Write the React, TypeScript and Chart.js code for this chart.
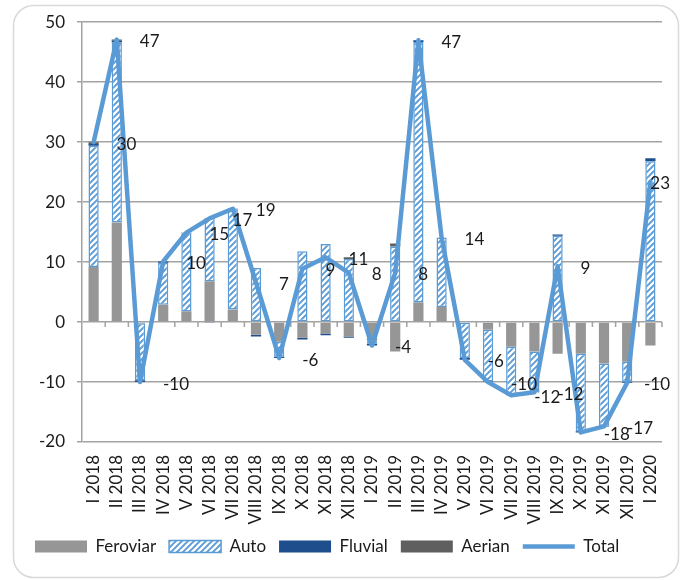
import React, { useEffect, useRef } from 'react';
import { Chart, registerables } from 'chart.js';

Chart.register(...registerables);

const categories = [
  'I 2018', 'II 2018', 'III 2018', 'IV 2018', 'V 2018', 'VI 2018', 'VII 2018', 'VIII 2018',
  'IX 2018', 'X 2018', 'XI 2018', 'XII 2018', 'I 2019', 'II 2019', 'III 2019', 'IV 2019',
  'V 2019', 'VI 2019', 'VII 2019', 'VIII 2019', 'IX 2019', 'X 2019', 'XI 2019', 'XII 2019', 'I 2020',
];

const feroviar = [9.2, 16.6, -0.2, 2.9, 1.8, 6.8, 2.1, -2.1, -3.3, -2.6, -1.9, -2.4, -3.2, -4.9, 3.3, 2.5, -0.1, -1.3, -4.1, -4.9, -5.3, -5.3, -6.9, -6.6, -3.9];
const auto = [20.2, 30.0, -9.5, 7.0, 13.0, 10.6, 16.7, 9.0, -2.5, 11.8, 13.0, 10.5, -0.4, 12.6, 43.4, 11.6, -5.9, -8.6, -8.0, -6.7, 14.4, -12.9, -10.4, -3.4, 26.8];
const fluvial = [0.3, 0.3, -0.3, 0.2, 0.1, -0.15, 0.1, -0.3, -0.2, -0.3, -0.3, -0.2, -0.3, 0, 0.3, 0, -0.3, -0.1, -0.1, -0.1, 0.2, -0.2, -0.1, -0.1, 0.5];
const aerian = [0.3, 0.2, 0, 0, 0, 0, 0, 0, 0, 0, 0, 0.3, 0, 0.5, 0, 0, 0, 0, 0, 0, 0, 0, 0, 0, 0];
const total = [30.0, 47.1, -10.0, 10.1, 14.9, 17.3, 18.9, 6.6, -6.0, 8.9, 10.8, 8.2, -3.9, 8.2, 47.0, 14.1, -6.3, -10.0, -12.2, -11.7, 9.3, -18.4, -17.4, -10.1, 23.4];

const yMin = -20;
const yMax = 50;
const yStep = 10;

const FONT = 'Lato';
const TEXT = '#1a1a1a';
const GRID = '#a3a3a3';
const BLUE = '#5b9bd5';

function makeHatch(): CanvasPattern | string {
  const s = 6;
  const c = document.createElement('canvas');
  c.width = s;
  c.height = s;
  const g = c.getContext('2d');
  if (!g) return BLUE;
  g.fillStyle = BLUE;
  g.fillRect(0, 0, s, s);
  g.strokeStyle = '#ffffff';
  g.lineWidth = 2.3;
  g.beginPath();
  for (let k = -1; k <= 2; k++) {
    g.moveTo(-1, k * s + 1);
    g.lineTo(k * s + 1, -1);
  }
  g.stroke();
  const p = g.createPattern(c, 'repeat');
  return p || BLUE;
}

const framePlugin = {
  id: 'frame',
  beforeDraw(chart: any) {
    const ctx = chart.ctx;
    ctx.save();
    ctx.fillStyle = '#ffffff';
    ctx.fillRect(0, 0, chart.width, chart.height);
    const x = 13.5, y = 5.5, w = 665, h = 572, r = 20;
    ctx.beginPath();
    ctx.moveTo(x + r, y);
    ctx.lineTo(x + w - r, y);
    ctx.arcTo(x + w, y, x + w, y + r, r);
    ctx.lineTo(x + w, y + h - r);
    ctx.arcTo(x + w, y + h, x + w - r, y + h, r);
    ctx.lineTo(x + r, y + h);
    ctx.arcTo(x, y + h, x, y + h - r, r);
    ctx.lineTo(x, y + r);
    ctx.arcTo(x, y, x + r, y, r);
    ctx.closePath();
    ctx.strokeStyle = '#d9d9d9';
    ctx.lineWidth = 1.5;
    ctx.stroke();
    ctx.restore();
  },
};

const zeroTicksPlugin = {
  id: 'zeroTicks',
  beforeDatasetsDraw(chart: any) {
    const ctx = chart.ctx;
    const ys = chart.scales.y;
    const y0 = ys.getPixelForValue(0);
    const n = categories.length;
    const left = chart.chartArea.left;
    const right = chart.chartArea.right;
    const step = (right - left) / n;
    ctx.save();
    ctx.strokeStyle = GRID;
    ctx.lineWidth = 1.5;
    ctx.beginPath();
    for (let k = 1; k <= n; k++) {
      const x = left + step * k;
      ctx.moveTo(x, y0);
      ctx.lineTo(x, y0 + 5);
    }
    ctx.stroke();
    ctx.restore();
  },
};

const totalLabelsPlugin = {
  id: 'totalLabels',
  afterDatasetsDraw(chart: any) {
    const idx = chart.data.datasets.findIndex((d: any) => d.label === 'Total');
    const meta = chart.getDatasetMeta(idx);
    const ctx = chart.ctx;
    ctx.save();
    ctx.font = `17px ${FONT}`;
    ctx.fillStyle = TEXT;
    ctx.textBaseline = 'middle';
    ctx.textAlign = 'left';
    const limit = chart.chartArea.right + 8;
    meta.data.forEach((pt: any, i: number) => {
      const txt = String(Math.round(total[i]));
      const w = ctx.measureText(txt).width;
      let x = pt.x + 23;
      if (x + w > limit) x = limit - w;
      ctx.fillText(txt, x, pt.y + 2);
    });
    ctx.restore();
  },
};

export default function App() {
  const ref = useRef<HTMLCanvasElement | null>(null);

  useEffect(() => {
    if (!ref.current) return;
    const hatch = makeHatch();
    const barCommon = {
      type: 'bar' as const,
      stack: 'bars',
      order: 1,
      barPercentage: 0.44,
      categoryPercentage: 1,
      pointStyle: 'rect',
    };
    const chart = new Chart(ref.current, {
      type: 'bar',
      data: {
        labels: categories,
        datasets: [
          { ...barCommon, label: 'Feroviar', data: feroviar, backgroundColor: '#969696', borderWidth: 0 },
          { ...barCommon, label: 'Auto', data: auto, backgroundColor: hatch as any, borderColor: BLUE, borderWidth: 1.5, borderSkipped: false },
          { ...barCommon, label: 'Fluvial', data: fluvial, backgroundColor: '#1f4e8c', borderWidth: 0 },
          { ...barCommon, label: 'Aerian', data: aerian, backgroundColor: '#5f5f5f', borderWidth: 0 },
          {
            type: 'line' as const,
            label: 'Total',
            data: total,
            stack: 'total',
            order: 0,
            borderColor: BLUE,
            backgroundColor: BLUE,
            borderWidth: 4.5,
            borderJoinStyle: 'round',
            borderCapStyle: 'round',
            pointRadius: 0,
            pointHoverRadius: 0,
            pointStyle: 'line',
            tension: 0,
            fill: false,
          } as any,
        ],
      },
      options: {
        responsive: false,
        animation: false,
        events: [],
        layout: { padding: { left: 22, right: 24, top: 18, bottom: 15 } },
        scales: {
          x: {
            stacked: true,
            grid: { display: false, drawTicks: false },
            border: { display: false },
            ticks: {
              autoSkip: false,
              minRotation: 90,
              maxRotation: 90,
              padding: 13,
              color: TEXT,
              font: { family: FONT, size: 17 },
            },
            afterFit(scale: any) {
              scale.height = 83;
            },
          },
          y: {
            stacked: true,
            min: yMin,
            max: yMax,
            grid: { color: GRID, lineWidth: 1.5, tickLength: 5 },
            border: { display: true, color: GRID, width: 1.5 },
            ticks: {
              stepSize: yStep,
              padding: 12,
              color: TEXT,
              font: { family: FONT, size: 17 },
            },
            afterFit(scale: any) {
              scale.width = 60;
            },
          },
        },
        plugins: {
          title: { display: false },
          tooltip: { enabled: false },
          legend: {
            display: true,
            position: 'bottom',
            align: 'start',
            labels: {
              usePointStyle: true,
              pointStyleWidth: 52,
              boxHeight: 12,
              padding: 13,
              color: TEXT,
              font: { family: FONT, size: 17 },
              sort: (a: any, b: any) => a.datasetIndex - b.datasetIndex,
              generateLabels(ch: any) {
                const items = (Chart.defaults.plugins.legend.labels as any).generateLabels(ch);
                return items.map((it: any) => {
                  if (it.text === 'Total') {
                    return { ...it, pointStyle: 'line', lineWidth: 4.5, strokeStyle: BLUE };
                  }
                  return { ...it, pointStyle: 'rect' };
                });
              },
            },
          },
        },
      },
      plugins: [framePlugin, zeroTicksPlugin, totalLabelsPlugin],
    } as any);
    return () => chart.destroy();
  }, []);

  return (
    <div style={{ position: 'absolute', left: 0, top: 0, width: 686, height: 580 }}>
      <canvas ref={ref} width={686} height={580} style={{ display: 'block' }} />
    </div>
  );
}
